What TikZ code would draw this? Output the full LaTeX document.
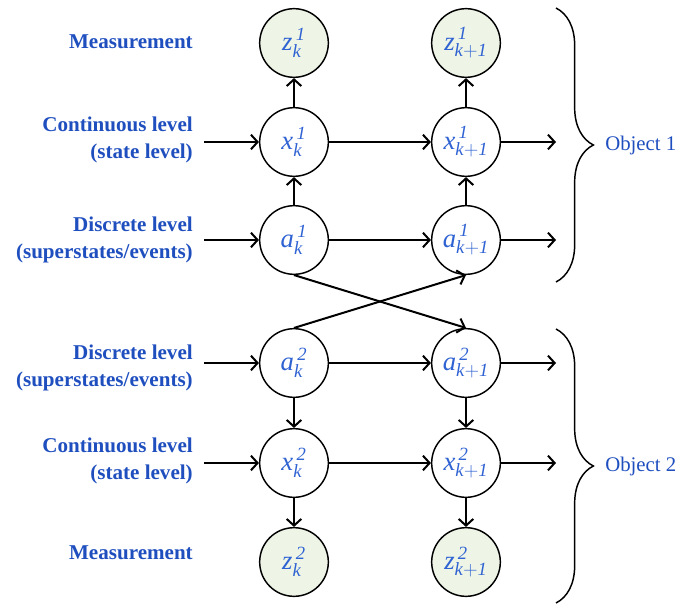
\documentclass[tikz,border=0pt]{standalone}
\usepackage{fontspec}
\setmainfont{Liberation Serif}
\usetikzlibrary{arrows.meta,decorations.pathreplacing}
\definecolor{lblblue}{HTML}{1F4FBF}
\definecolor{mathblue}{HTML}{2F62D2}
\definecolor{obsfill}{HTML}{EEF5E7}
% state variable: symbol, object index, time index
\newcommand{\stv}[3]{$\mathit{#1}^{\mkern3mu\mathit{#2}}_{\mathit{#3}}$}
\tikzset{
  var/.style={circle,draw=black,line width=1.1pt,minimum size=51.5pt,inner sep=0pt,
    font=\fontsize{20}{22}\selectfont,text=mathblue},
  obs/.style={var,fill=obsfill},
  lvl/.style={align=right,anchor=east,inner sep=0pt,text=lblblue,
    font=\fontsize{15.8}{20}\selectfont\bfseries},
  objlbl/.style={anchor=west,inner sep=0pt,text=lblblue,font=\fontsize{15.6}{18}\selectfont},
  edge/.style={-{Straight Barb[length=5pt,width=11pt,line width=1.5pt]},line width=1.5pt},
  bracedeco/.style={decorate,decoration={brace,amplitude=28pt},line width=1.1pt}
}
\begin{document}
\begin{tikzpicture}[x=0.75pt,y=-0.75pt]
\useasboundingbox (0,0) rectangle (678,606);

% object 1 chain (top)
\node[obs] (z1a) at (294,43)  {\stv{z}{1}{k}};
\node[obs] (z1b) at (466,43)  {\stv{z}{1}{k+1}};
\node[var] (x1a) at (294,142) {\stv{x}{1}{k}};
\node[var] (x1b) at (466,142) {\stv{x}{1}{k+1}};
\node[var] (a1a) at (294,240) {\stv{a}{1}{k}};
\node[var] (a1b) at (466,240) {\stv{a}{1}{k+1}};

% object 2 chain (bottom)
\node[var] (a2a) at (294,363) {\stv{a}{2}{k}};
\node[var] (a2b) at (466,363) {\stv{a}{2}{k+1}};
\node[var] (x2a) at (294,463) {\stv{x}{2}{k}};
\node[var] (x2b) at (466,463) {\stv{x}{2}{k+1}};
\node[obs] (z2a) at (294,562) {\stv{z}{2}{k}};
\node[obs] (z2b) at (466,562) {\stv{z}{2}{k+1}};

% row labels
\node[lvl] (lz1) at (193,42)  {Measurement};
\node[lvl] (lx1) at (193,140) {Continuous level\\(state level)};
\node[lvl] (la1) at (193,240) {Discrete level\\(superstates/events)};
\node[lvl] (la2) at (193,368) {Discrete level\\(superstates/events)};
\node[lvl] (lx2) at (193,461) {Continuous level\\(state level)};
\node[lvl] (lz2) at (193,553) {Measurement};

% free ends of the horizontal connectors
\coordinate (inx1) at (204,142);
\coordinate (ina1) at (204,240);
\coordinate (ina2) at (204,363);
\coordinate (inx2) at (204,463);
\coordinate (outx1) at (556,142);
\coordinate (outa1) at (556,240);
\coordinate (outa2) at (556,363);
\coordinate (outx2) at (556,463);

% horizontal connectors
\foreach \r in {x1,a1,a2,x2}{
  \draw[edge] (in\r) -- (\r a);
  \draw[edge] (\r a) -- (\r b);
  \draw[edge] (\r b) -- (out\r);
}

% vertical connectors
\foreach \c in {a,b}{
  \draw[edge] (a1\c) -- (x1\c);
  \draw[edge] (x1\c) -- (z1\c);
  \draw[edge] (a2\c) -- (x2\c);
  \draw[edge] (x2\c) -- (z2\c);
}

% cross coupling of the discrete levels
\draw[edge] (a1a.south) -- (a2b.north);
\draw[edge] (a2a.north) -- (a1b.south);

% object braces
\coordinate (b1t) at (556,8);
\coordinate (b1b) at (556,282);
\coordinate (b2t) at (556,329);
\coordinate (b2b) at (556,603);
\draw[bracedeco] (b1t) -- (b1b);
\draw[bracedeco] (b2t) -- (b2b);
\node[objlbl] (o1) at (605,145) {Object 1};
\node[objlbl] (o2) at (605,466) {Object 2};
\end{tikzpicture}
\end{document}
